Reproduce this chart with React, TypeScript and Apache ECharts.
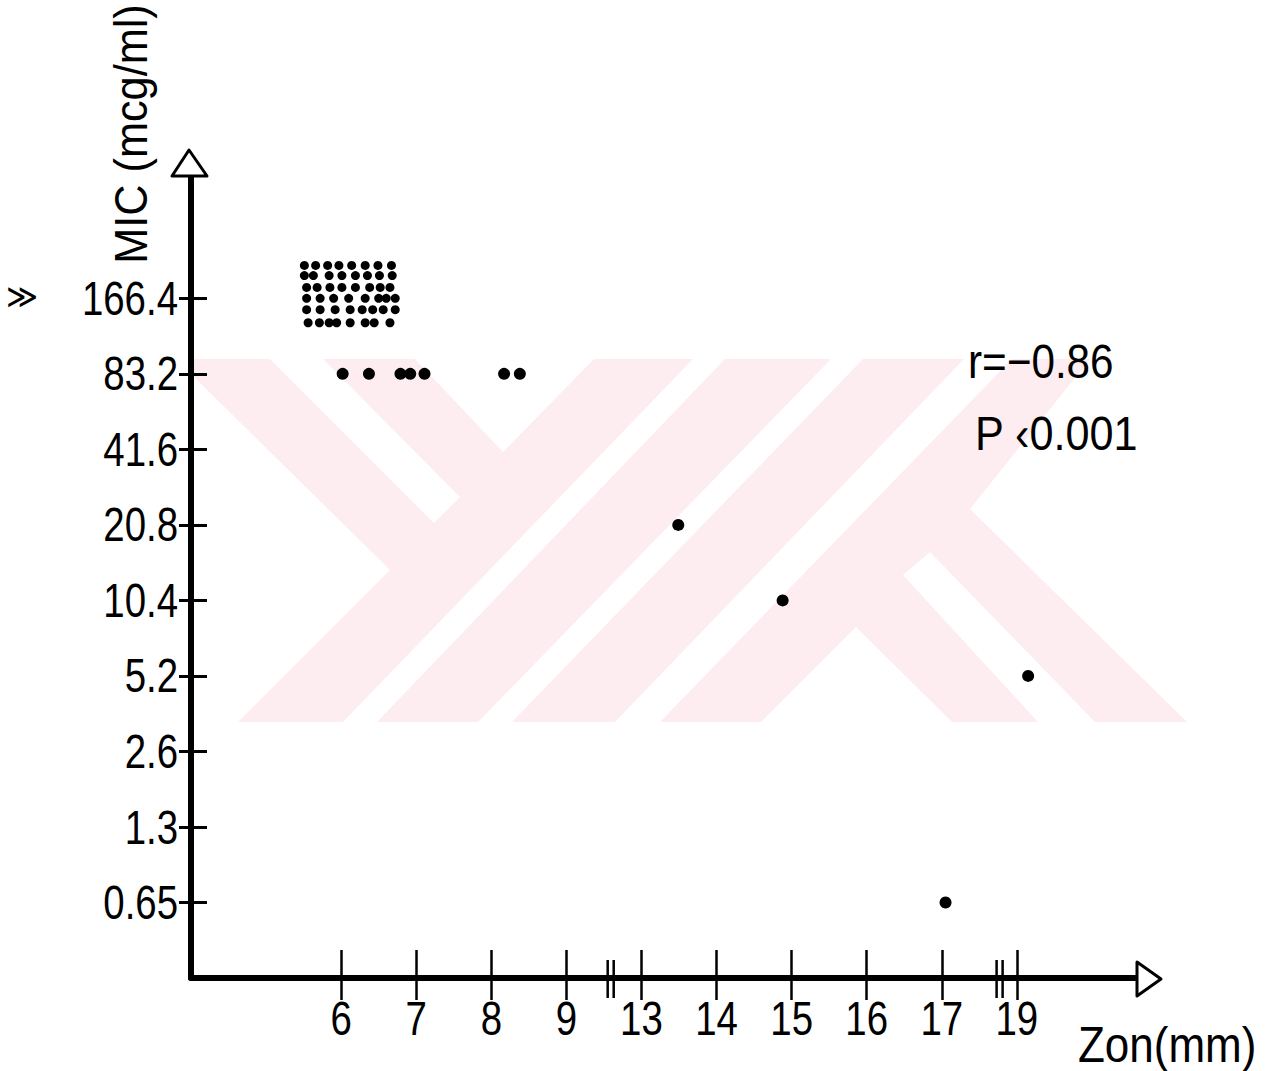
import { useEffect, useRef } from "react";
import * as echarts from "echarts";

const FONT = '"Liberation Sans", Arial, sans-serif';

// Inhibition zone diameters (mm) shown on the broken x axis
const zoneTicks = [6, 7, 8, 9, 13, 14, 15, 16, 17, 19];
const zoneLabels = ["6", "7", "8", "9", "13", "14", "15", "16", "17", "19"];
// MIC dilution steps (mcg/ml), doubling per step
const micTicks = [0.65, 1.3, 2.6, 5.2, 10.4, 20.8, 41.6, 83.2, 166.4];
const micTickLabels = ["0.65", "1.3", "2.6", "5.2", "10.4", "20.8", "41.6", "83.2", "166.4"];
const MIC_BASE = 0.325;

// Individual isolates
const isolateZone = [6.02, 6.37, 6.79, 6.92, 7.11, 8.17, 8.38, 13.49, 14.88, 17.05, 19.15];
const isolateMic = [83.2, 83.2, 83.2, 83.2, 83.2, 83.2, 83.2, 20.8, 10.4, 0.65, 5.2];

// Resistant isolates (MIC >= 166.4) drawn as a block of dots, one row per MIC level
const resistantRowMic = [225, 205, 184, 166.4, 150, 133];
const resistantRowZones = [
  [5.51, 5.66, 5.82, 5.97, 6.14, 6.32, 6.49, 6.67],
  [5.51, 5.63, 5.84, 6.01, 6.19, 6.35, 6.51, 6.68],
  [5.54, 5.68, 5.85, 6.01, 6.19, 6.38, 6.52, 6.65],
  [5.54, 5.72, 5.9, 6.1, 6.32, 6.5, 6.6, 6.72],
  [5.54, 5.72, 5.92, 6.12, 6.28, 6.42, 6.56, 6.72],
  [5.56, 5.71, 5.84, 5.94, 6.12, 6.32, 6.44, 6.65],
];

// Break marks on the x axis (axis positions)
const axisBreaks = [3.55, 3.63, 8.73, 8.81];

// Broken x axis: 9 -> 13 and 17 -> 19 are squeezed to one step
function zonePos(z: number) {
  if (z <= 11) return z - 6;
  if (z <= 18) return z - 9;
  return z - 10;
}
// Log2 y axis starting one dilution below 0.65
function micPos(m: number) {
  return Math.log2(m / MIC_BASE);
}

const tickPositions = zoneTicks.map(zonePos);
const micPositions = micTicks.map(micPos);

const isolatePoints = isolateZone.map((z, i) => [zonePos(z), micPos(isolateMic[i])]);
const resistantPoints: number[][] = [];
resistantRowZones.forEach((row, r) =>
  row.forEach((z) => resistantPoints.push([zonePos(z), micPos(resistantRowMic[r])]))
);

const X_MIN = -2;
const X_MAX = 10.6;
const Y_MIN = 0;
const Y_MAX = 10.62;

const PINK = "#fdecf0";

// Faint background logo made of diagonal bands
const logoWhite = [
  [[193, 376], [390, 570], [238, 722], [193, 722]],
  [[270, 359], [323, 359], [460, 497], [434, 523]],
  [[415, 359], [503, 452], [594, 359]],
  [[693, 359], [725, 359], [377, 722], [343, 722]],
  [[831, 359], [863, 359], [512, 722], [478, 722]],
  [[964, 359], [1012, 359], [660, 722], [615, 722]],
  [[761, 722], [856, 627], [952, 722]],
  [[1090, 359], [1187, 359], [1187, 722], [970, 509]],
  [[930, 552], [1095, 722], [1038, 722], [903, 575]],
];

const LABEL_SCALE = 0.8;
const LABEL_SIZE = 48;

const textEl = (text: string, size: number, x: number, y: number, align: string, scaleX: number, rotation = 0) => ({
  type: "text",
  z: 10,
  x,
  y,
  rotation,
  scaleX,
  style: {
    text,
    fill: "#000",
    font: `${size}px ${FONT}`,
    textAlign: align,
    textVerticalAlign: "middle",
  },
});

const option: any = {
  animation: false,
  backgroundColor: "#fff",
  grid: { left: 191, right: 147, top: 176, bottom: 93, containLabel: false },
  xAxis: [
    {
      type: "value",
      min: X_MIN,
      max: X_MAX,
      interval: 1,
      splitLine: { show: false },
      axisLine: { show: true, onZero: false, lineStyle: { color: "#000", width: 6 } },
      axisTick: {
        show: true,
        customValues: tickPositions,
        length: 22,
        lineStyle: { color: "#000", width: 2.5 },
      },
      axisLabel: { show: false },
    },
    {
      type: "value",
      min: X_MIN,
      max: X_MAX,
      interval: 1,
      position: "bottom",
      splitLine: { show: false },
      axisLine: { show: false, onZero: false },
      axisLabel: { show: false },
      axisTick: {
        show: true,
        inside: true,
        customValues: tickPositions,
        length: 28,
        lineStyle: { color: "#000", width: 2.5 },
      },
    },
  ],
  yAxis: [
    {
      type: "value",
      min: Y_MIN,
      max: Y_MAX,
      interval: 1,
      splitLine: { show: false },
      axisLine: { show: true, onZero: false, lineStyle: { color: "#000", width: 6 } },
      axisTick: {
        show: true,
        customValues: micPositions,
        length: 12,
        lineStyle: { color: "#000", width: 3 },
      },
      axisLabel: { show: false },
    },
    {
      type: "value",
      min: Y_MIN,
      max: Y_MAX,
      interval: 1,
      position: "left",
      splitLine: { show: false },
      axisLine: { show: false, onZero: false },
      axisLabel: { show: false },
      axisTick: {
        show: true,
        inside: true,
        customValues: micPositions,
        length: 16,
        lineStyle: { color: "#000", width: 3 },
      },
    },
  ],
  series: [
    {
      type: "scatter",
      xAxisIndex: 0,
      yAxisIndex: 0,
      symbol: "circle",
      symbolSize: 12,
      itemStyle: { color: "#000", opacity: 1 },
      data: isolatePoints,
      z: 5,
    },
    {
      type: "scatter",
      xAxisIndex: 0,
      yAxisIndex: 0,
      symbol: "circle",
      symbolSize: 9,
      itemStyle: { color: "#000", opacity: 1 },
      data: resistantPoints,
      z: 5,
    },
    {
      // axis break marks
      type: "custom",
      xAxisIndex: 0,
      yAxisIndex: 0,
      data: axisBreaks.map((b) => [b, 0]),
      clip: false,
      z: 6,
      renderItem: (params: any, api: any) => {
        const p = api.coord([api.value(0), Y_MIN]);
        return {
          type: "line",
          shape: { x1: p[0], y1: p[1] - 18, x2: p[0], y2: p[1] + 20 },
          style: { stroke: "#000", lineWidth: 2.5 },
        };
      },
    },
    {
      // x tick labels, narrow lettering
      type: "custom",
      xAxisIndex: 0,
      yAxisIndex: 0,
      data: tickPositions.map((p, i) => [p, i]),
      clip: false,
      z: 6,
      renderItem: (params: any, api: any) => {
        const p = api.coord([api.value(0), Y_MIN]);
        return {
          type: "text",
          x: p[0],
          y: p[1] + 40,
          scaleX: LABEL_SCALE,
          style: {
            text: zoneLabels[api.value(1)],
            fill: "#000",
            font: `${LABEL_SIZE}px ${FONT}`,
            textAlign: "center",
            textVerticalAlign: "middle",
          },
        };
      },
    },
    {
      // y tick labels, narrow lettering
      type: "custom",
      xAxisIndex: 0,
      yAxisIndex: 0,
      data: micPositions.map((p, i) => [X_MIN, p, i]),
      clip: false,
      z: 6,
      renderItem: (params: any, api: any) => {
        const p = api.coord([api.value(0), api.value(1)]);
        return {
          type: "text",
          x: p[0] - 13,
          y: p[1],
          scaleX: LABEL_SCALE,
          style: {
            text: micTickLabels[api.value(2)],
            fill: "#000",
            font: `${LABEL_SIZE}px ${FONT}`,
            textAlign: "right",
            textVerticalAlign: "middle",
          },
        };
      },
    },
  ],
  graphic: [
    {
      type: "group",
      z: -10,
      silent: true,
      children: [
        { type: "rect", z: -10, shape: { x: 193, y: 359, width: 994, height: 363 }, style: { fill: PINK } },
        ...logoWhite.map((pts) => ({
          type: "polygon",
          z: -9,
          shape: { points: pts },
          style: { fill: "#fff" },
        })),
      ],
    },
    {
      // hollow arrowheads at the axis ends
      type: "polygon",
      z: 10,
      shape: { points: [[189, 150], [172, 176], [207, 176]] },
      style: { fill: "#fff", stroke: "#000", lineWidth: 3, lineJoin: "round" },
    },
    {
      type: "polygon",
      z: 10,
      shape: { points: [[1161, 979], [1137, 962], [1137, 996]] },
      style: { fill: "#fff", stroke: "#000", lineWidth: 3, lineJoin: "round" },
    },
    textEl("MIC (mcg/ml)", 46, 131, 134, "center", 0.94, Math.PI / 2),
    textEl("≫", 34, 6, 296, "left", 0.9),
    textEl("Zon(mm)", 50, 1078, 1044, "left", 0.88),
    textEl("r=−0.86", 48, 968, 362, "left", 0.88),
    textEl("P ‹0.001", 48, 975, 434, "left", 0.9),
  ],
};

export default function App() {
  const ref = useRef<HTMLDivElement>(null);
  useEffect(() => {
    const chart = echarts.init(ref.current!, null, { renderer: "svg" });
    chart.setOption(option);
    return () => chart.dispose();
  }, []);
  return (
    <div
      ref={ref}
      style={{ position: "fixed", left: 0, top: 0, width: 1284, height: 1071, background: "#fff" }}
    />
  );
}
